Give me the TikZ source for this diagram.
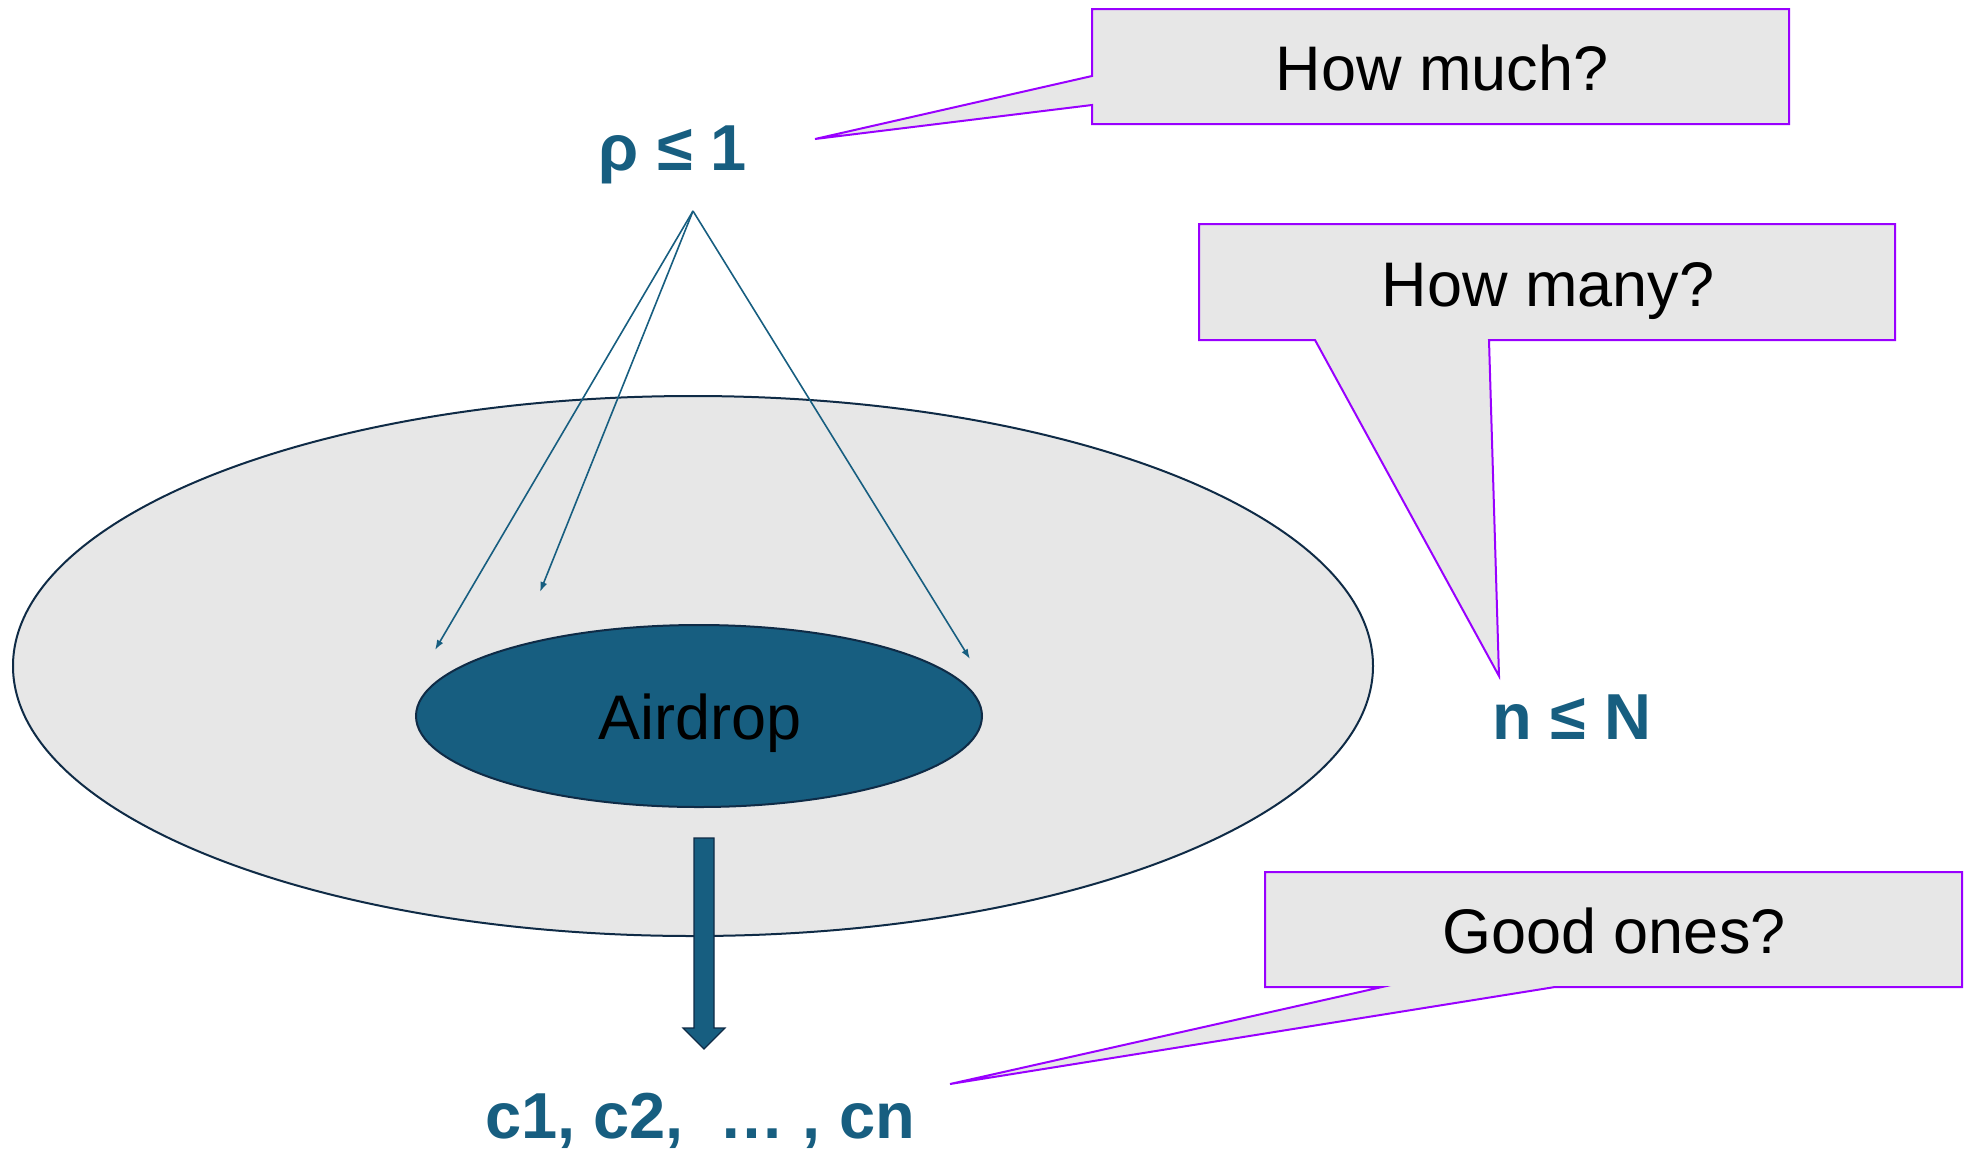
\documentclass[tikz,border=0pt]{standalone}
\usepackage{fontspec}
\setmainfont{Liberation Sans}
\usetikzlibrary{arrows.meta,shapes.geometric}
\definecolor{dropteal}{HTML}{175E80}
\definecolor{poolgray}{HTML}{E7E7E7}
\definecolor{poolline}{HTML}{0F2B46}
\definecolor{askviolet}{HTML}{9900FF}

\begin{document}
\begin{tikzpicture}[
  x=0.5pt, y=-0.5pt,
  every node/.style={inner sep=0pt, font=\fontsize{31.5}{36}\selectfont},
  qty/.style={dropteal, font=\fontsize{32.5}{38}\selectfont\bfseries, anchor=base},
  pool/.style={ellipse, draw=poolline, line width=1pt, fill=poolgray,
    minimum width=680pt, minimum height=270pt},
  drop/.style={ellipse, draw=poolline, line width=1pt, fill=dropteal,
    minimum width=283pt, minimum height=91pt},
  share/.style={dropteal, line width=0.8pt, -{Latex[length=5pt,width=3.5pt]}},
  ask/.style={draw=askviolet, line width=1pt, fill=poolgray},
  asktext/.style={anchor=base, black},
  claimarrow/.style={draw=poolline, line width=0.6pt, fill=dropteal}
]
  \useasboundingbox (0,0) rectangle (1972,1148);

  %% ---- holders and airdrop --------------------------------------------
  \node[pool] (pool) at (693,666) {};
  \node[drop] (drop) at (699,716) {};
  \node[asktext] (droptext) at (700,739) {Airdrop};

  %% ---- share arrows ---------------------------------------------------
  \node[qty] (rho) at (673,170) {ρ ≤ 1};
  \coordinate (apex) at (693,211);
  \coordinate (hitL) at (435,650);
  \coordinate (hitM) at (540,592);
  \coordinate (hitR) at (970,659);
  \draw[share] (apex) -- (hitL);
  \draw[share] (apex) -- (hitM);
  \draw[share] (apex) -- (hitR);

  %% ---- claims ---------------------------------------------------------
  \draw[claimarrow] (694,838) -- (714,838) -- (714,1028) -- (725,1028)
    -- (704,1049) -- (683,1028) -- (694,1028) -- cycle;
  \node[qty] (claims) at (700,1138) {c1, c2,\ \ … , cn};

  \node[qty] (count) at (1572,739) {n ≤ N};

  %% ---- callouts -------------------------------------------------------
  \draw[ask] (1092,9) -- (1789,9) -- (1789,124) -- (1092,124)
    -- (1092,105) -- (815,139) -- (1092,76) -- cycle;
  \node[asktext] (howmuch) at (1442,90) {How much?};

  \draw[ask] (1199,224) -- (1895,224) -- (1895,340) -- (1489,340)
    -- (1499,676) -- (1315,340) -- (1199,340) -- cycle;
  \node[asktext] (howmany) at (1548,306) {How many?};

  \draw[ask] (1265,872) -- (1962,872) -- (1962,987) -- (1555,987)
    -- (950,1084) -- (1382,987) -- (1265,987) -- cycle;
  \node[asktext] (goodones) at (1614,953) {Good ones?};

\end{tikzpicture}
\end{document}
